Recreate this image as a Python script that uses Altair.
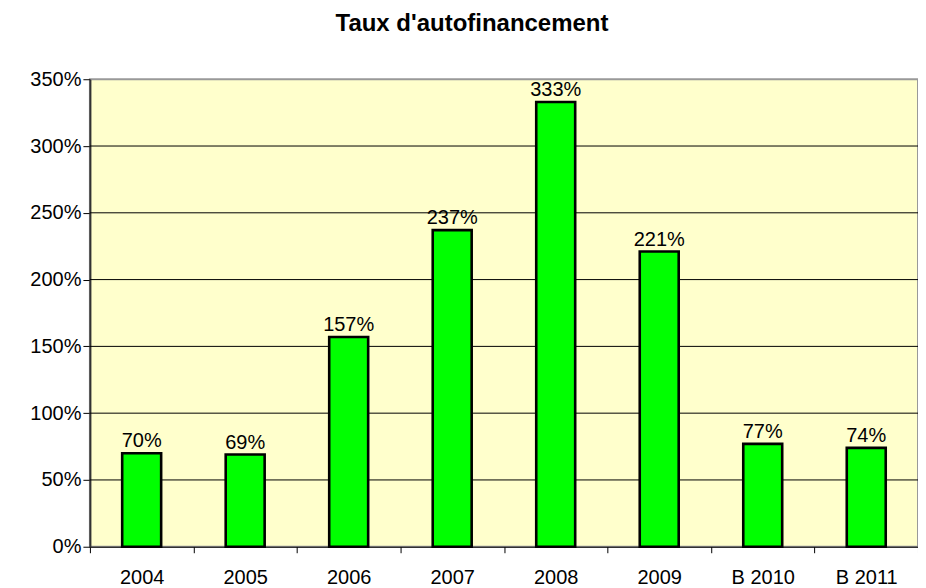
import altair as alt
import pandas as pd

categories = ["2004", "2005", "2006", "2007", "2008", "2009", "B 2010", "B 2011"]
values = [0.70, 0.69, 1.57, 2.37, 3.33, 2.21, 0.77, 0.74]
grid_values = [0.5, 1.0, 1.5, 2.0, 2.5, 3.0]
y_ticks = [0, 0.5, 1.0, 1.5, 2.0, 2.5, 3.0, 3.5]

df = pd.DataFrame({"cat": categories, "val": values})
gdf = pd.DataFrame({"g": grid_values})

FONT = "Liberation Sans"

xscale = alt.Scale(domain=categories, paddingInner=0, paddingOuter=0)
yscale = alt.Scale(domain=[0, 3.5], nice=False)

xaxis = alt.Axis(
    title=None, labelAngle=0, labelFont=FONT, labelFontSize=20, labelColor="#000000",
    tickBand="extent", tickSize=6, tickColor="#000000", domainColor="#000000",
    domainWidth=1, labelPadding=15, grid=False,
)
yaxis = alt.Axis(
    title=None, values=y_ticks, format=".0%", labelFont=FONT, labelFontSize=20,
    labelColor="#000000", tickSize=7, tickColor="#000000", domainColor="#333333",
    domainWidth=2, labelPadding=2, grid=False,
)

grid = alt.Chart(gdf).mark_rule(color="#000000", strokeWidth=1).encode(
    y=alt.Y("g:Q", scale=yscale, axis=yaxis)
)

bars = alt.Chart(df).mark_bar(size=39, color="#00FF00", stroke="#000000", strokeWidth=2.6).encode(
    x=alt.X("cat:N", scale=xscale, axis=xaxis, sort=categories),
    y=alt.Y("val:Q", scale=yscale, axis=yaxis),
)

labels = alt.Chart(df).mark_text(
    font=FONT, fontSize=20, color="#000000", baseline="alphabetic", dy=-6
).encode(
    x=alt.X("cat:N", scale=xscale, sort=categories),
    y=alt.Y("val:Q", scale=yscale),
    text=alt.Text("val:Q", format=".0%"),
)

chart = alt.layer(grid, bars, labels).properties(
    width=829,
    height=468,
    background="#FFFFFF",
    title=alt.TitleParams(
        "Taux d'autofinancement", font=FONT, fontSize=24, fontWeight="bold",
        color="#000000", anchor="middle", frame="group", dx=-32, offset=33,
    ),
    autosize=alt.AutoSizeParams(type="none"),
    padding={"left": 82, "top": 71, "right": 0, "bottom": 41},
).configure_view(
    fill="#FFFFCC", stroke="#999999", strokeWidth=2
)

chart.save("out.html", embed_options={"renderer": "svg", "actions": False})
